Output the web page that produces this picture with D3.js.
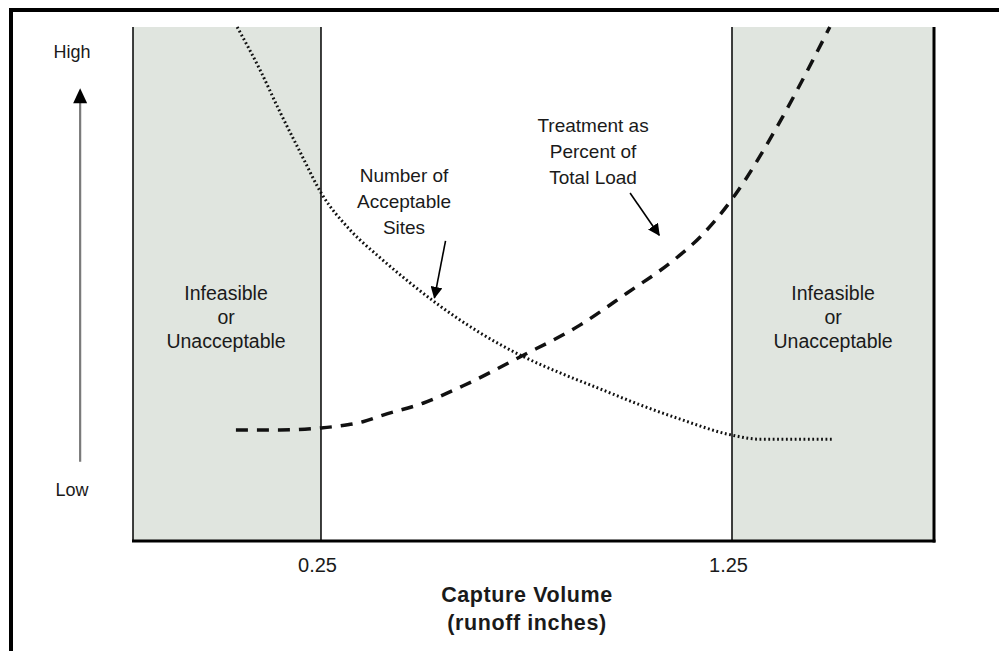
<!DOCTYPE html>
<html>
<head>
<meta charset="utf-8">
<script src="https://cdn.jsdelivr.net/npm/d3@7"></script>
<style>
  html, body { margin: 0; padding: 0; background: #fff; }
  svg { display: block; }
  text { font-family: "Liberation Sans", Arial, sans-serif; fill: #1a1a1a; }
</style>
</head>
<body>
<svg id="chart" width="999" height="651"></svg>
<script>
// ---------- data (x: capture volume in runoff inches, y: relative level 0 = Low, 100 = High) ----------
const xTicks = [0.25, 1.25];
const xDomain = [-0.2074, 1.7415];
const yDomain = [0, 100];

const bandStarts = [-0.2074, 1.25];
const bandEnds   = [0.25, 1.7415];
const bandLabel  = ["Infeasible", "or", "Unacceptable"];
const bandLabelX = [0.019, 1.496];
const bandLabelY = 46.9;

const sitesX = [0.046, 0.102, 0.150, 0.199, 0.252, 0.321, 0.394, 0.467, 0.540, 0.637, 0.734, 0.832, 0.929, 1.026, 1.124, 1.25, 1.318, 1.496];
const sitesY = [100, 91.6, 83.5, 75.7, 67.5, 60.5, 55.1, 50.2, 45.7, 40.5, 36.2, 32.7, 29.6, 26.5, 23.7, 20.6, 19.8, 19.8];

const loadX = [0.043, 0.150, 0.25, 0.296, 0.352, 0.401, 0.498, 0.596, 0.734, 0.880, 0.994, 1.106, 1.172, 1.25, 1.359, 1.447, 1.488];
const loadY = [21.6, 21.6, 22.0, 22.4, 23.2, 24.5, 26.8, 30.2, 35.8, 42.0, 48.2, 54.5, 59.1, 66.5, 80.5, 93.6, 100];

const sitesLabel = ["Number of", "Acceptable", "Sites"];
const sitesLabelPos = [0.452, 69.8];
const sitesArrow = [[0.553, 58.4], [0.526, 47.3]];

const loadLabel = ["Treatment as", "Percent of", "Total Load"];
const loadLabelPos = [0.912, 79.6];
const loadArrow = [[1.002, 67.7], [1.073, 59.5]];

const yLabels = ["High", "Low"];
const yLabelX = -0.356;
const yLabelY = [94.0, 8.8];
const yArrow = [[-0.336, 15.4], [-0.336, 88.1]];

const xTitle = ["Capture Volume", "(runoff inches)"];

// ---------- layout ----------
const svg = d3.select("#chart");
const plot = { left: 133, right: 934, top: 27, bottom: 541 };
const x = d3.scaleLinear().domain(xDomain).range([plot.left, plot.right]);
const y = d3.scaleLinear().domain(yDomain).range([plot.bottom, plot.top]);

// outer frame (only top and left edges fall inside the picture)
svg.append("rect")
  .attr("x", 11).attr("y", 10).attr("width", 1200).attr("height", 900)
  .attr("fill", "none").attr("stroke", "#000").attr("stroke-width", 4);

// arrow head marker
const defs = svg.append("defs");
defs.append("marker").attr("id", "headBlack")
  .attr("viewBox", "0 0 12 12").attr("refX", 11).attr("refY", 6)
  .attr("markerWidth", 12).attr("markerHeight", 12).attr("markerUnits", "userSpaceOnUse")
  .attr("orient", "auto")
  .append("path").attr("d", "M0,0 L12,6 L0,12 Z").attr("fill", "#000");

// grey bands
svg.selectAll("rect.band").data(bandStarts).enter().append("rect")
  .attr("class", "band")
  .attr("x", (d) => x(d))
  .attr("y", plot.top)
  .attr("width", (d, i) => x(bandEnds[i]) - x(d))
  .attr("height", plot.bottom - plot.top)
  .attr("fill", "#e0e5df");

// vertical boundary lines
svg.append("line").attr("x1", plot.left).attr("x2", plot.left)
  .attr("y1", plot.top).attr("y2", plot.bottom).attr("stroke", "#000").attr("stroke-width", 1.5);
svg.selectAll("line.vb").data(xTicks).enter().append("line")
  .attr("class", "vb")
  .attr("x1", (d) => x(d)).attr("x2", (d) => x(d))
  .attr("y1", plot.top).attr("y2", plot.bottom)
  .attr("stroke", "#000").attr("stroke-width", 1.5);
svg.append("line").attr("x1", plot.right).attr("x2", plot.right)
  .attr("y1", plot.top).attr("y2", plot.bottom + 1.5).attr("stroke", "#000").attr("stroke-width", 3);

// x axis
const xAxis = d3.axisBottom(x).tickValues(xTicks).tickSize(0).tickPadding(0).tickFormat(d3.format(".2f"));
const gx = svg.append("g").attr("transform", `translate(-4,${plot.bottom})`).call(xAxis);
gx.select(".domain").remove();
gx.selectAll("text")
  .attr("y", 0).attr("dy", 0)
  .attr("transform", "translate(0,31)")
  .style("font-family", "'Liberation Sans', Arial, sans-serif")
  .style("font-size", "20px").attr("fill", "#222");
svg.append("line").attr("x1", plot.left - 1).attr("x2", plot.right + 1.5)
  .attr("y1", plot.bottom).attr("y2", plot.bottom).attr("stroke", "#000").attr("stroke-width", 3);

// band labels
bandLabelX.forEach((bx) => {
  const t = svg.append("text").attr("text-anchor", "middle").style("font-size", "19.5px");
  bandLabel.forEach((s, i) => {
    t.append("tspan").attr("x", x(bx)).attr("y", y(bandLabelY) + i * 24).text(s);
  });
});

// curves
const line = d3.line().x((d) => x(d[0])).y((d) => y(d[1])).curve(d3.curveMonotoneX);
svg.append("path").datum(sitesX.map((v, i) => [v, sitesY[i]]))
  .attr("d", line).attr("fill", "none").attr("stroke", "#111")
  .attr("stroke-width", 3).attr("stroke-dasharray", "1.8,2.6");
svg.append("path").datum(loadX.map((v, i) => [v, loadY[i]]))
  .attr("d", line).attr("fill", "none").attr("stroke", "#111")
  .attr("stroke-width", 3.5).attr("stroke-dasharray", "12,9");

// curve labels and arrows
function multiText(lines, pos) {
  const t = svg.append("text").attr("text-anchor", "middle").style("font-size", "19px");
  lines.forEach((s, i) => {
    t.append("tspan").attr("x", x(pos[0])).attr("y", y(pos[1]) + i * 26).text(s);
  });
}
multiText(sitesLabel, sitesLabelPos);
multiText(loadLabel, loadLabelPos);

[sitesArrow, loadArrow].forEach((a) => {
  svg.append("line")
    .attr("x1", x(a[0][0])).attr("y1", y(a[0][1]))
    .attr("x2", x(a[1][0])).attr("y2", y(a[1][1]))
    .attr("stroke", "#000").attr("stroke-width", 1.6)
    .attr("marker-end", "url(#headBlack)");
});

// High / Low indicator
svg.selectAll("text.ylab").data(yLabels).enter().append("text")
  .attr("class", "ylab")
  .attr("x", x(yLabelX)).attr("y", (d, i) => y(yLabelY[i]))
  .attr("text-anchor", "middle").style("font-size", "18px").attr("fill", "#222")
  .text((d) => d);
svg.append("line")
  .attr("x1", x(yArrow[0][0])).attr("y1", y(yArrow[0][1]))
  .attr("x2", x(yArrow[1][0])).attr("y2", y(yArrow[1][1]) + 12)
  .attr("stroke", "#7a7a7a").attr("stroke-width", 2.2);
svg.append("path")
  .attr("d", `M${x(yArrow[1][0])},${y(yArrow[1][1])} l-7,15 l14,0 Z`)
  .attr("fill", "#000");

// x axis title
const tt = svg.append("text").attr("text-anchor", "middle")
  .style("font-size", "21.5px").style("font-weight", "bold")
  .style("letter-spacing", "0.6px").attr("fill", "#111");
xTitle.forEach((s, i) => {
  tt.append("tspan").attr("x", 527).attr("y", 602 + i * 28).text(s);
});
</script>
</body>
</html>
